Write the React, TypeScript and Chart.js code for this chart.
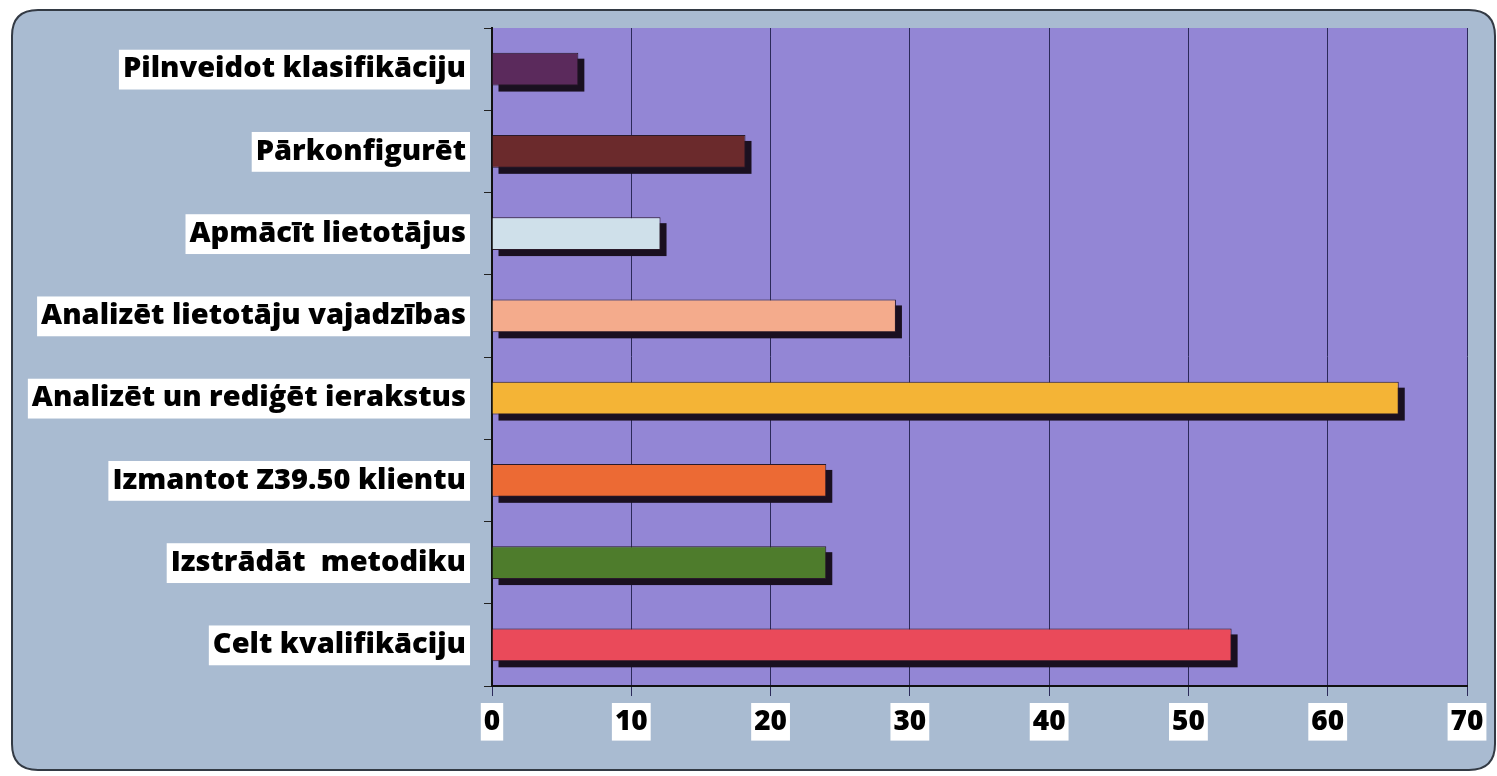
import React, { useEffect, useRef } from "react";
import { Chart, registerables } from "chart.js";

Chart.register(...registerables);

const categories = [
  "Pilnveidot klasifikāciju",
  "Pārkonfigurēt",
  "Apmācīt lietotājus",
  "Analizēt lietotāju vajadzības",
  "Analizēt un rediģēt ierakstus",
  "Izmantot Z39.50 klientu",
  "Izstrādāt  metodiku",
  "Celt kvalifikāciju",
];
const values = [6.2, 18.2, 12.1, 29, 65.1, 24, 24, 53.1];
const barColors = [
  "#5b2a5c",
  "#6b2a2c",
  "#cfe0ea",
  "#f4ab8c",
  "#f4b436",
  "#ec6a34",
  "#4e7c2c",
  "#ea4a5a",
];
const xTicks = [0, 10, 20, 30, 40, 50, 60, 70];

const FONT = "'Open Sans', Lato, sans-serif";

const backgroundPlugin = {
  id: "bgPlugin",
  beforeDraw(chart: any) {
    const { ctx, chartArea } = chart;
    ctx.save();
    ctx.fillStyle = "#ffffff";
    ctx.fillRect(0, 0, chart.width, chart.height);
    const x = 12, y = 10, w = 1483, h = 760, r = 26;
    ctx.beginPath();
    ctx.moveTo(x + r, y);
    ctx.lineTo(x + w - r, y);
    ctx.quadraticCurveTo(x + w, y, x + w, y + r);
    ctx.lineTo(x + w, y + h - r);
    ctx.quadraticCurveTo(x + w, y + h, x + w - r, y + h);
    ctx.lineTo(x + r, y + h);
    ctx.quadraticCurveTo(x, y + h, x, y + h - r);
    ctx.lineTo(x, y + r);
    ctx.quadraticCurveTo(x, y, x + r, y);
    ctx.closePath();
    ctx.fillStyle = "#a9bbd1";
    ctx.fill();
    ctx.lineWidth = 2;
    ctx.strokeStyle = "#333a44";
    ctx.stroke();
    ctx.fillStyle = "#9386d5";
    ctx.fillRect(chartArea.left, chartArea.top, chartArea.right - chartArea.left, chartArea.bottom - chartArea.top);
    ctx.restore();
  },
};

const shadowPlugin = {
  id: "shadowPlugin",
  beforeDatasetsDraw(chart: any) {
    const ctx = chart.ctx;
    ctx.save();
    ctx.fillStyle = "#1a1020";
    chart.getSortedVisibleDatasetMetas().forEach((meta: any) => {
      meta.data.forEach((el: any) => {
        const p = el.getProps(["x", "y", "base", "height"], true);
        const left = Math.min(p.base, p.x);
        const w = Math.abs(p.x - p.base);
        ctx.fillRect(left + 6, p.y - p.height / 2 + 6, w, p.height);
      });
    });
    ctx.restore();
  },
};

export default function App() {
  const ref = useRef<HTMLCanvasElement | null>(null);
  useEffect(() => {
    if (!ref.current) return;
    const chart = new Chart(ref.current, {
      type: "bar",
      data: {
        labels: categories,
        datasets: [
          {
            data: values,
            backgroundColor: barColors,
            borderColor: "#2a1a2a",
            borderWidth: 1,
            categoryPercentage: 1,
            barPercentage: 0.4,
          },
        ],
      },
      options: {
        indexAxis: "y",
        animation: false,
        responsive: false,
        maintainAspectRatio: false,
        layout: { padding: { left: 0, right: 30, top: 28, bottom: 0 } },
        plugins: { legend: { display: false }, tooltip: { enabled: false } },
        scales: {
          x: {
            min: 0,
            max: 70,
            afterBuildTicks(scale: any) {
              scale.ticks = xTicks.map((v) => ({ value: v }));
            },
            afterFit(scale: any) {
              scale.height = 90;
            },
            grid: {
              color: "#2c2a5a",
              lineWidth: 1,
              tickLength: 10,
              drawTicks: true,
            },
            border: { color: "#111111", width: 2 },
            ticks: {
              color: "#000000",
              font: { family: FONT, size: 28, weight: 800 },
              padding: 9,
              showLabelBackdrop: true,
              backdropColor: "#ffffff",
              backdropPadding: { left: 3, right: 3, top: 2, bottom: 2 },
              maxRotation: 0,
            },
          },
          y: {
            afterFit(scale: any) {
              scale.width = 492;
              scale.paddingTop = 0;
              scale.paddingBottom = 0;
            },
            grid: {
              drawOnChartArea: false,
              drawTicks: true,
              tickLength: 8,
              color: "#222222",
              offset: true,
            },
            border: { color: "#111111", width: 2 },
            ticks: {
              color: "#000000",
              font: { family: FONT, size: 29, weight: 800 },
              padding: 18,
              showLabelBackdrop: true,
              backdropColor: "#ffffff",
              backdropPadding: { left: 4, right: 4, top: 2, bottom: 3 },
            },
          },
        },
      } as any,
      plugins: [backgroundPlugin, shadowPlugin],
    });
    return () => chart.destroy();
  }, []);
  return (
    <div style={{ position: "fixed", left: 0, top: 0, width: 1497, height: 776 }}>
      <canvas ref={ref} width={1497} height={776} style={{ display: "block" }} />
    </div>
  );
}
